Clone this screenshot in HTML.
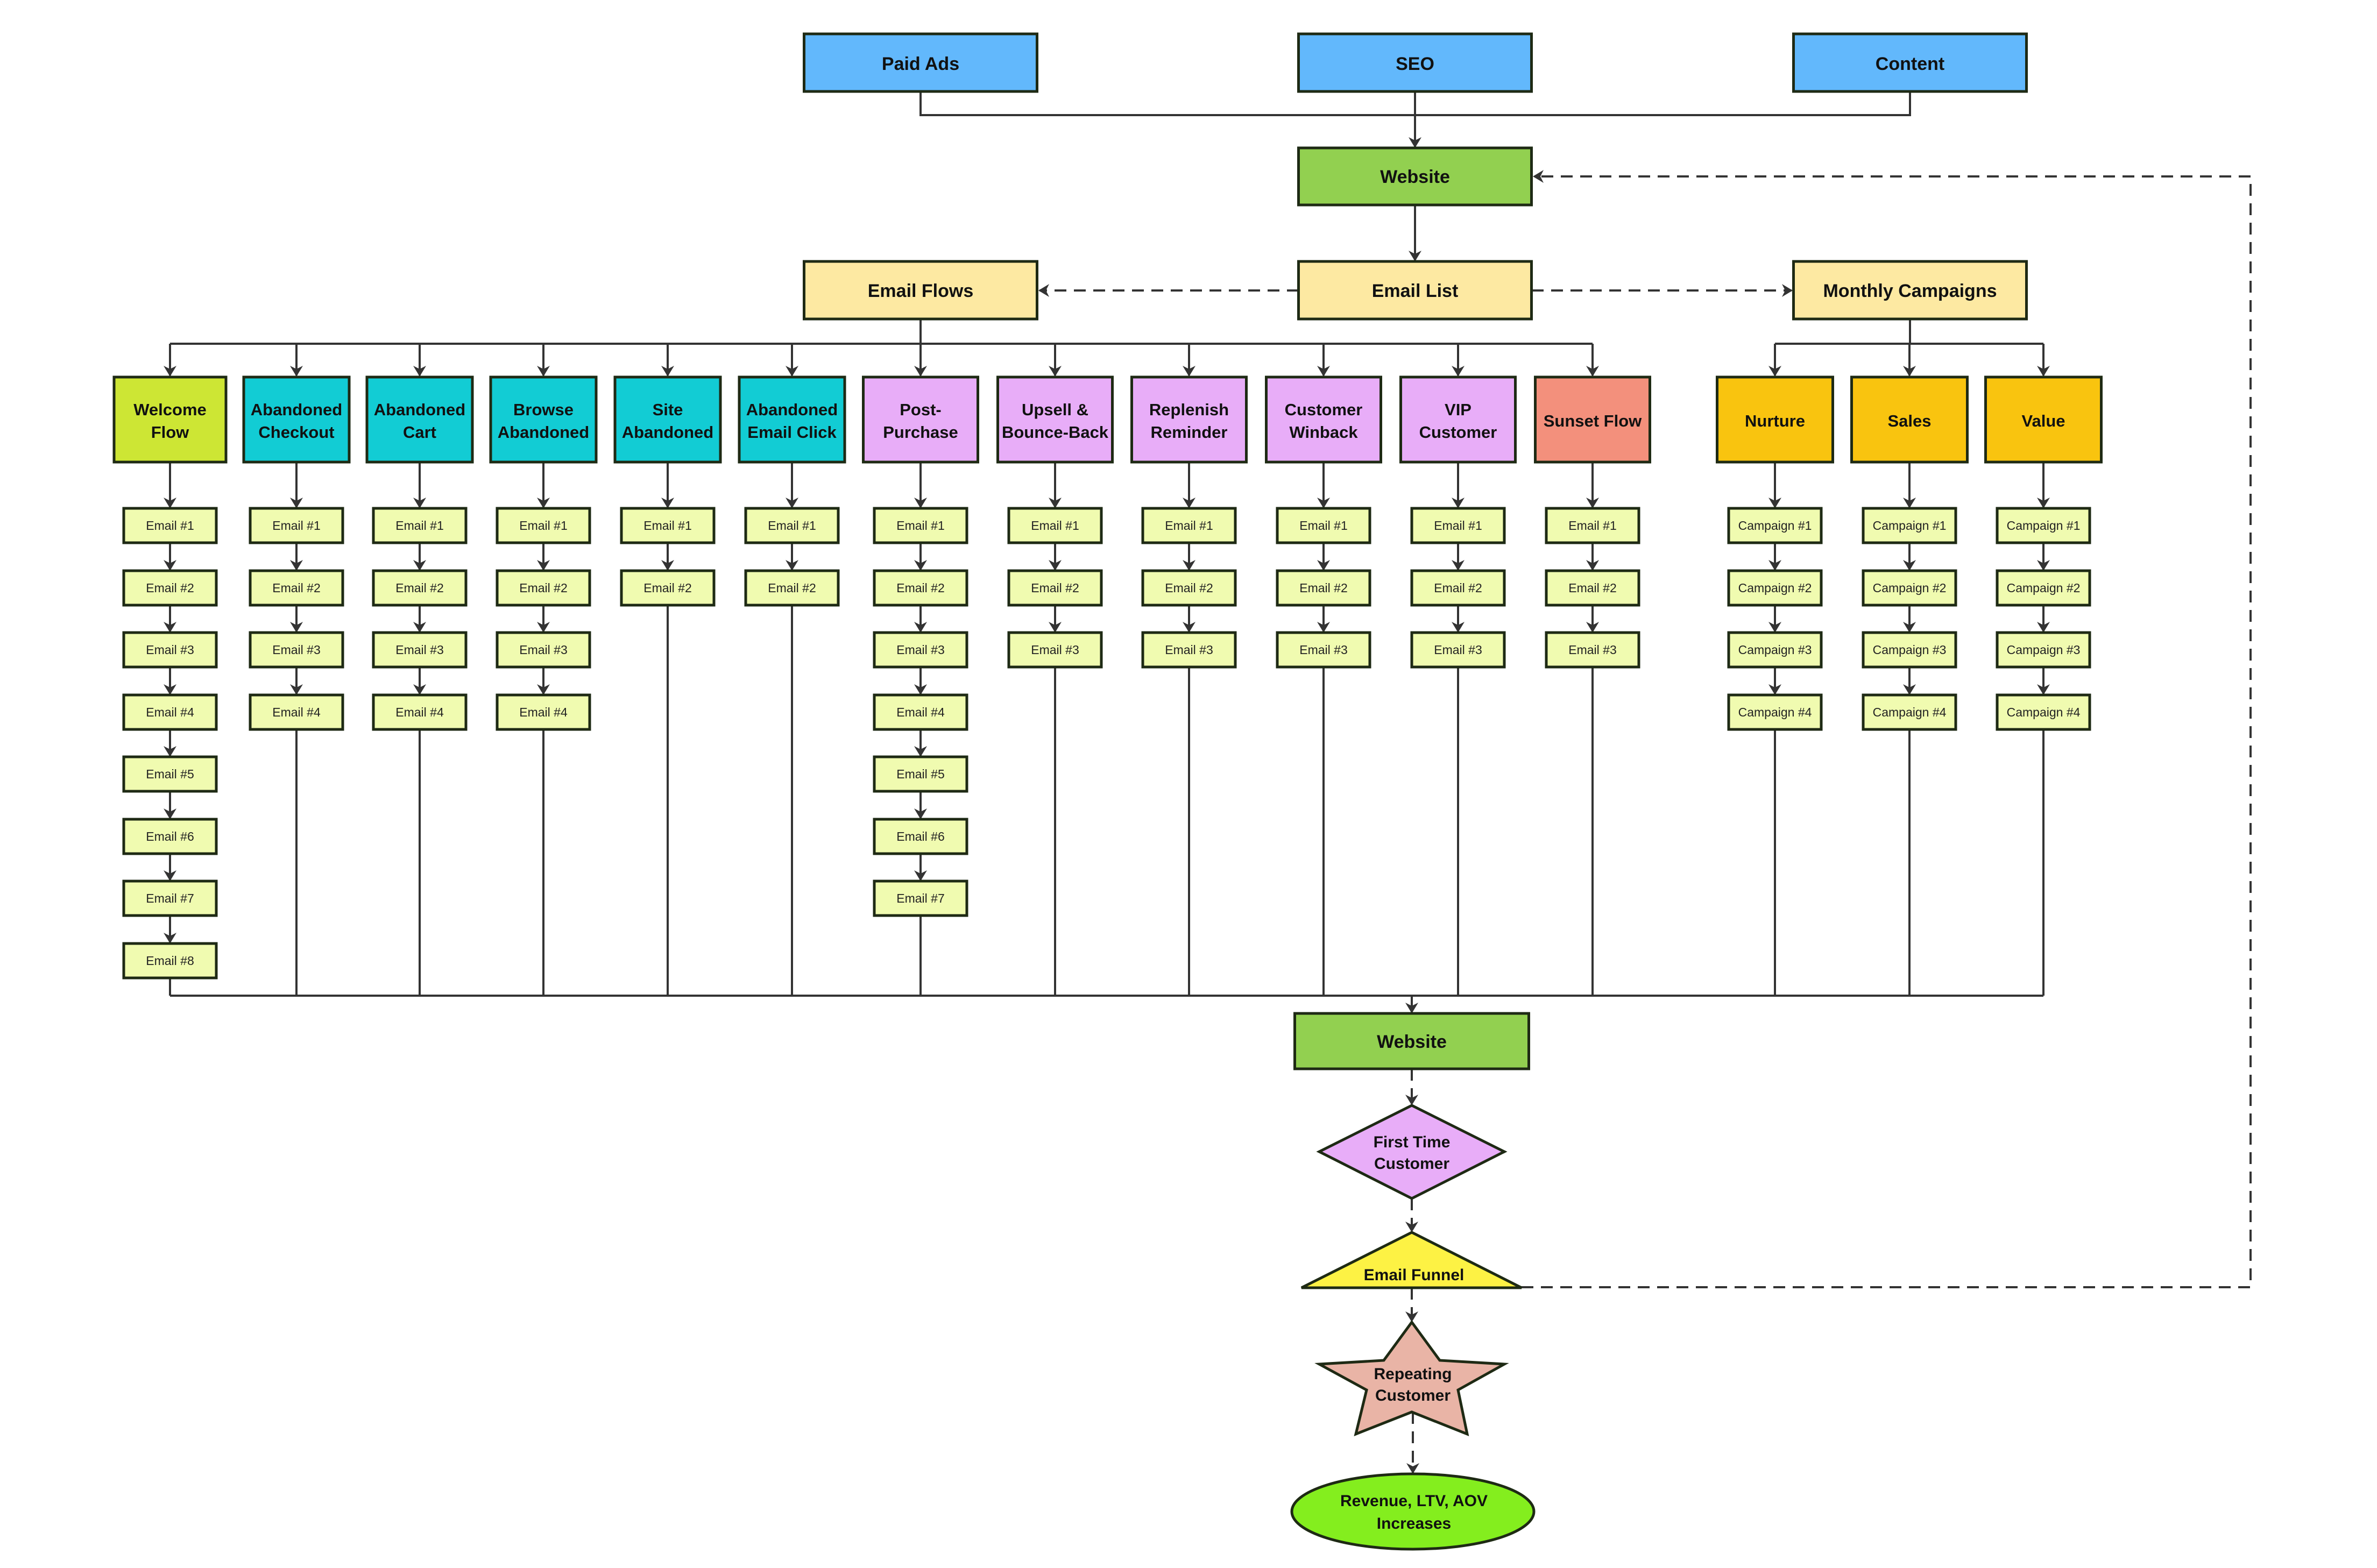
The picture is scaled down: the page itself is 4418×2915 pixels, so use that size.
<!DOCTYPE html>
<html><head><meta charset="utf-8"><style>
html,body{margin:0;padding:0;background:#fff}
svg{display:block}
text{font-family:"Liberation Sans",sans-serif;text-anchor:middle;fill:#111}
.h{font-weight:bold;font-size:31px}
.t{font-weight:bold;font-size:34px}
.e{font-size:23px;fill:#222}
.b{font-weight:bold;font-size:30px}
</style></head><body>
<svg id="s" width="4418" height="2915" viewBox="0 0 4418 2915" xmlns="http://www.w3.org/2000/svg">
<defs>
<marker id="a" markerWidth="20" markerHeight="24" refX="18" refY="12" orient="auto" markerUnits="userSpaceOnUse" viewBox="0 0 20 24"><path d="M0,0 L20,12 L0,24 L6,12 z" fill="#333"/></marker>
</defs>
<rect width="4418" height="2915" fill="#fff"/>
<g id="lines" stroke="#333" stroke-width="4" fill="none"></g>
<g id="shapes" stroke="#1e2a14" stroke-width="5"></g>
<g id="labels">
<text class="t" x="1711" y="130">Paid Ads</text>
<text class="t" x="2630" y="130">SEO</text>
<text class="t" x="3550" y="130">Content</text>
<text class="t" x="2630" y="340">Website</text>
<text class="t" x="1711" y="552">Email Flows</text>
<text class="t" x="2630" y="552">Email List</text>
<text class="t" x="3550" y="552">Monthly Campaigns</text>

<text class="h" x="316" y="772">Welcome</text><text class="h" x="316" y="814">Flow</text>
<text class="h" x="551" y="772">Abandoned</text><text class="h" x="551" y="814">Checkout</text>
<text class="h" x="780" y="772">Abandoned</text><text class="h" x="780" y="814">Cart</text>
<text class="h" x="1010" y="772">Browse</text><text class="h" x="1010" y="814">Abandoned</text>
<text class="h" x="1241" y="772">Site</text><text class="h" x="1241" y="814">Abandoned</text>
<text class="h" x="1472" y="772">Abandoned</text><text class="h" x="1472" y="814">Email Click</text>
<text class="h" x="1711" y="772">Post-</text><text class="h" x="1711" y="814">Purchase</text>
<text class="h" x="1961" y="772">Upsell &amp;</text><text class="h" x="1961" y="814">Bounce-Back</text>
<text class="h" x="2210" y="772">Replenish</text><text class="h" x="2210" y="814">Reminder</text>
<text class="h" x="2460" y="772">Customer</text><text class="h" x="2460" y="814">Winback</text>
<text class="h" x="2710" y="772">VIP</text><text class="h" x="2710" y="814">Customer</text>
<text class="h" x="2960" y="793">Sunset Flow</text>
<text class="h" x="3299" y="793">Nurture</text>
<text class="h" x="3549" y="793">Sales</text>
<text class="h" x="3798" y="793">Value</text>

<text class="e" x="316" y="985">Email #1</text><text class="e" x="316" y="1101">Email #2</text><text class="e" x="316" y="1216">Email #3</text><text class="e" x="316" y="1332">Email #4</text><text class="e" x="316" y="1447">Email #5</text><text class="e" x="316" y="1563">Email #6</text><text class="e" x="316" y="1678">Email #7</text><text class="e" x="316" y="1794">Email #8</text>
<text class="e" x="551" y="985">Email #1</text><text class="e" x="551" y="1101">Email #2</text><text class="e" x="551" y="1216">Email #3</text><text class="e" x="551" y="1332">Email #4</text>
<text class="e" x="780" y="985">Email #1</text><text class="e" x="780" y="1101">Email #2</text><text class="e" x="780" y="1216">Email #3</text><text class="e" x="780" y="1332">Email #4</text>
<text class="e" x="1010" y="985">Email #1</text><text class="e" x="1010" y="1101">Email #2</text><text class="e" x="1010" y="1216">Email #3</text><text class="e" x="1010" y="1332">Email #4</text>
<text class="e" x="1241" y="985">Email #1</text><text class="e" x="1241" y="1101">Email #2</text>
<text class="e" x="1472" y="985">Email #1</text><text class="e" x="1472" y="1101">Email #2</text>
<text class="e" x="1711" y="985">Email #1</text><text class="e" x="1711" y="1101">Email #2</text><text class="e" x="1711" y="1216">Email #3</text><text class="e" x="1711" y="1332">Email #4</text><text class="e" x="1711" y="1447">Email #5</text><text class="e" x="1711" y="1563">Email #6</text><text class="e" x="1711" y="1678">Email #7</text>
<text class="e" x="1961" y="985">Email #1</text><text class="e" x="1961" y="1101">Email #2</text><text class="e" x="1961" y="1216">Email #3</text>
<text class="e" x="2210" y="985">Email #1</text><text class="e" x="2210" y="1101">Email #2</text><text class="e" x="2210" y="1216">Email #3</text>
<text class="e" x="2460" y="985">Email #1</text><text class="e" x="2460" y="1101">Email #2</text><text class="e" x="2460" y="1216">Email #3</text>
<text class="e" x="2710" y="985">Email #1</text><text class="e" x="2710" y="1101">Email #2</text><text class="e" x="2710" y="1216">Email #3</text>
<text class="e" x="2960" y="985">Email #1</text><text class="e" x="2960" y="1101">Email #2</text><text class="e" x="2960" y="1216">Email #3</text>
<text class="e" x="3299" y="985">Campaign #1</text><text class="e" x="3299" y="1101">Campaign #2</text><text class="e" x="3299" y="1216">Campaign #3</text><text class="e" x="3299" y="1332">Campaign #4</text>
<text class="e" x="3549" y="985">Campaign #1</text><text class="e" x="3549" y="1101">Campaign #2</text><text class="e" x="3549" y="1216">Campaign #3</text><text class="e" x="3549" y="1332">Campaign #4</text>
<text class="e" x="3798" y="985">Campaign #1</text><text class="e" x="3798" y="1101">Campaign #2</text><text class="e" x="3798" y="1216">Campaign #3</text><text class="e" x="3798" y="1332">Campaign #4</text>

<text class="t" x="2624" y="1948">Website</text>
<text class="b" x="2624" y="2133">First Time</text><text class="b" x="2624" y="2173">Customer</text>
<text class="b" x="2628" y="2380">Email Funnel</text>
<text class="b" x="2626" y="2564">Repeating</text><text class="b" x="2626" y="2604">Customer</text>
<text class="b" x="2628" y="2800">Revenue, LTV, AOV</text><text class="b" x="2628" y="2842">Increases</text>
</g>
</svg>
<script>
(function(){
var NS="http://www.w3.org/2000/svg";
var L=document.getElementById('lines'),S=document.getElementById('shapes'),s=document.getElementById('s'),lab=document.getElementById('labels');
function el(p,t,a){var e=document.createElementNS(NS,t);for(var k in a)e.setAttribute(k,a[k]);p.appendChild(e);return e;}
function line(x1,y1,x2,y2,arr,dash){var a={x1:x1,y1:y1,x2:x2,y2:y2};if(arr)a['marker-end']='url(#a)';if(dash)a['stroke-dasharray']='22 14';el(L,'line',a);}
function pl(pts,arr,dash){var a={points:pts};if(arr)a['marker-end']='url(#a)';if(dash)a['stroke-dasharray']='22 14';el(L,'polyline',a);}
function rect(cx,y1,w,h,f){el(S,'rect',{x:cx-w/2,y:y1,width:w,height:h,fill:f});}
rect(1711,63,433,107,'#62b8fc');rect(2630,63,433,107,'#62b8fc');rect(3550,63,433,107,'#62b8fc');
pl('1711,170 1711,214 3550,214 3550,170');line(2630,170,2630,273,1);
rect(2630,275,433,106,'#92d050');
line(2630,381,2630,484,1);
rect(1711,486,433,107,'#fde9a2');rect(2630,486,433,107,'#fde9a2');rect(3550,486,433,107,'#fde9a2');
line(2414,540,1932,540,1,1);line(2847,540,3330,540,1,1);
line(1711,593,1711,639);line(316,639,2960,639);
line(3550,593,3550,639);line(3299,639,3798,639);
var cols=[[316,208,8,'#cde634'],[551,196,4,'#12ccd4'],[780,196,4,'#12ccd4'],[1010,196,4,'#12ccd4'],[1241,196,2,'#12ccd4'],[1472,196,2,'#12ccd4'],[1711,213,7,'#e8adf8'],[1961,213,3,'#e8adf8'],[2210,213,3,'#e8adf8'],[2460,213,3,'#e8adf8'],[2710,213,3,'#e8adf8'],[2960,213,3,'#f3907c'],[3299,215,4,'#f9c40f'],[3549,215,4,'#f9c40f'],[3798,215,4,'#f9c40f']];
var rows=[977,1093,1208,1324,1439,1555,1670,1786];
cols.forEach(function(c){
 var x=c[0];line(x,639,x,698,1);rect(x,701,c[1],158,c[3]);
 line(x,859,x,943,1);
 for(var i=0;i<c[2];i++){rect(x,rows[i]-32,172,64,'#f0fbb0');if(i<c[2]-1)line(x,rows[i]+32,x,rows[i+1]-34,1);}
 line(x,rows[c[2]-1]+32,x,1851);
});
line(316,1851,3798,1851);line(2624,1851,2624,1882,1);
rect(2624,1884,435,103,'#92d050');
line(2624,1987,2624,2053,1,1);
el(S,'polygon',{points:'2624,2055 2796,2141 2624,2228 2452,2141',fill:'#e8adf8'});
line(2624,2228,2624,2289,1,1);
el(S,'polygon',{points:'2624,2291 2828,2394 2419,2394',fill:'#fdf244'});
line(2624,2394,2624,2456,1,1);
el(S,'polygon',{points:'2624,2458 2676,2529 2796,2536 2710,2584 2727,2666 2624,2625 2520,2666 2540,2584 2452,2536 2572,2529',fill:'#e9b4a6'});
line(2626,2625,2626,2738,1,1);
el(S,'ellipse',{cx:2626,cy:2810,rx:225,ry:70,fill:'#84ee1e'});
pl('2828,2393 4183,2393 4183,328 2851,328',1,1);
s.appendChild(lab);
})();
</script>
</body></html>
